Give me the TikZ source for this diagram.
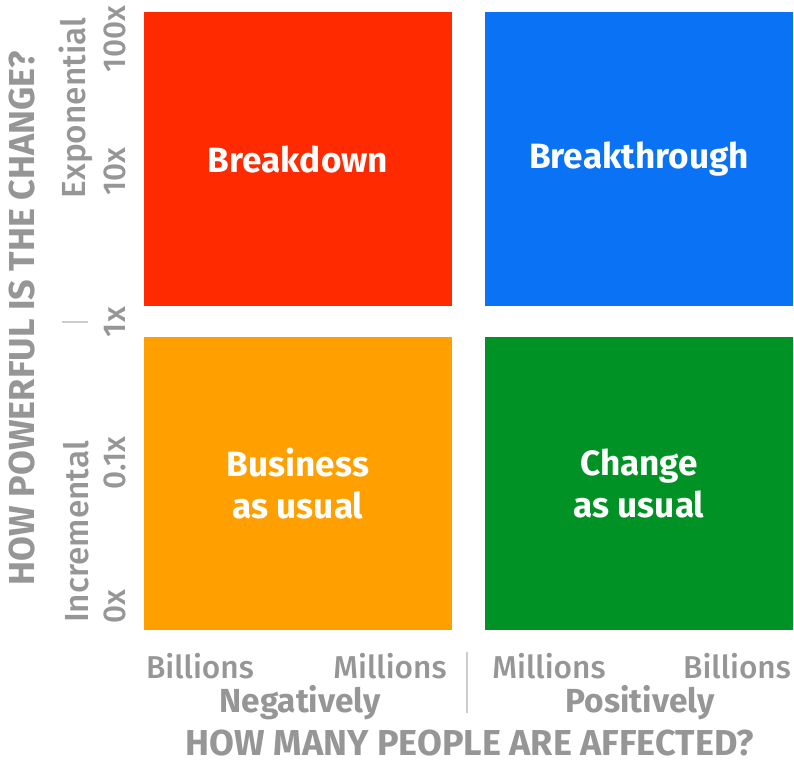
\documentclass[tikz,border=0pt]{standalone}
\usepackage{fontspec}
\setmainfont{Fira Sans}
\newfontfamily\firamedium{Fira Sans Medium}
\usetikzlibrary{positioning}
\definecolor{breakred}{RGB}{255,42,0}
\definecolor{breakblue}{RGB}{10,115,245}
\definecolor{usualorange}{RGB}{255,160,0}
\definecolor{usualgreen}{RGB}{0,146,36}
\definecolor{axisgray}{RGB}{150,150,150}
\definecolor{ticklight}{RGB}{205,205,205}
\tikzstyle{quadrant}=[rectangle,minimum width=6.18cm,minimum height=5.88cm,inner sep=0pt,text=white,align=center,font=\fontsize{20}{24}\selectfont\bfseries]
\tikzstyle{scalelabel}=[text=axisgray,inner sep=0pt,font=\fontsize{18}{20}\selectfont\firamedium]
\tikzstyle{sidelabel}=[text=axisgray,inner sep=0pt,font=\fontsize{19}{21}\selectfont\bfseries]
\tikzstyle{rangelabel}=[text=axisgray,inner sep=0pt,rotate=90,font=\fontsize{19}{21}\selectfont\firamedium]
\tikzstyle{axistitle}=[text=axisgray,inner sep=0pt,font=\fontsize{20.5}{23}\selectfont\bfseries]
\tikzstyle{divider}=[draw=ticklight,line width=0.8pt]

\begin{document}
\begin{tikzpicture}[x=0.02cm,y=-0.02cm]
    \useasboundingbox (0,0) rectangle (794,762);

    % the four quadrants
    \foreach \pos/\name/\col/\label in {{(298,159)/breakdown/breakred/Breakdown}, {(639,159)/breakthrough/breakblue/Breakthrough}, {(298,483.5)/business/usualorange/Business\\as usual}, {(639,483.5)/change/usualgreen/Change\\as usual}}
        \node[quadrant,fill=\col] (\name) at \pos {\label};

    % vertical axis: powers of change
    \foreach \pos/\name/\label in {{(115,39)/p100/100x}, {(115,172)/p10/10x}, {(115,322)/p1/1x}, {(115,463)/p01/0.1x}, {(115,607)/p0/0x}}
        \node[scalelabel,rotate=90] (\name) at \pos {\label};
    \node[rangelabel] (expo) at (76,108) {Exponential};
    \node[rangelabel] (incr) at (76,532) {Incremental};
    \coordinate (vtickA) at (62,322);
    \coordinate (vtickB) at (88,322);
    \path[divider] (vtickA) -- (vtickB);
    \node[axistitle,rotate=90] (powerful) at (22,318) {HOW POWERFUL IS THE CHANGE?};

    % horizontal axis: people affected
    \foreach \pos/\name/\label in {{(200,666)/negbil/Billions}, {(390,666)/negmil/Millions}, {(549,666)/posmil/Millions}, {(737,666)/posbil/Billions}}
        \node[scalelabel] (\name) at \pos {\label};
    \node[sidelabel] (neg) at (300,703) {Negatively};
    \node[sidelabel] (pos) at (640,703) {Positively};
    \coordinate (htickA) at (467,652);
    \coordinate (htickB) at (467,713);
    \path[divider] (htickA) -- (htickB);
    \node[axistitle] (affected) at (470,743) {HOW MANY PEOPLE ARE AFFECTED?};

\end{tikzpicture}
\end{document}
